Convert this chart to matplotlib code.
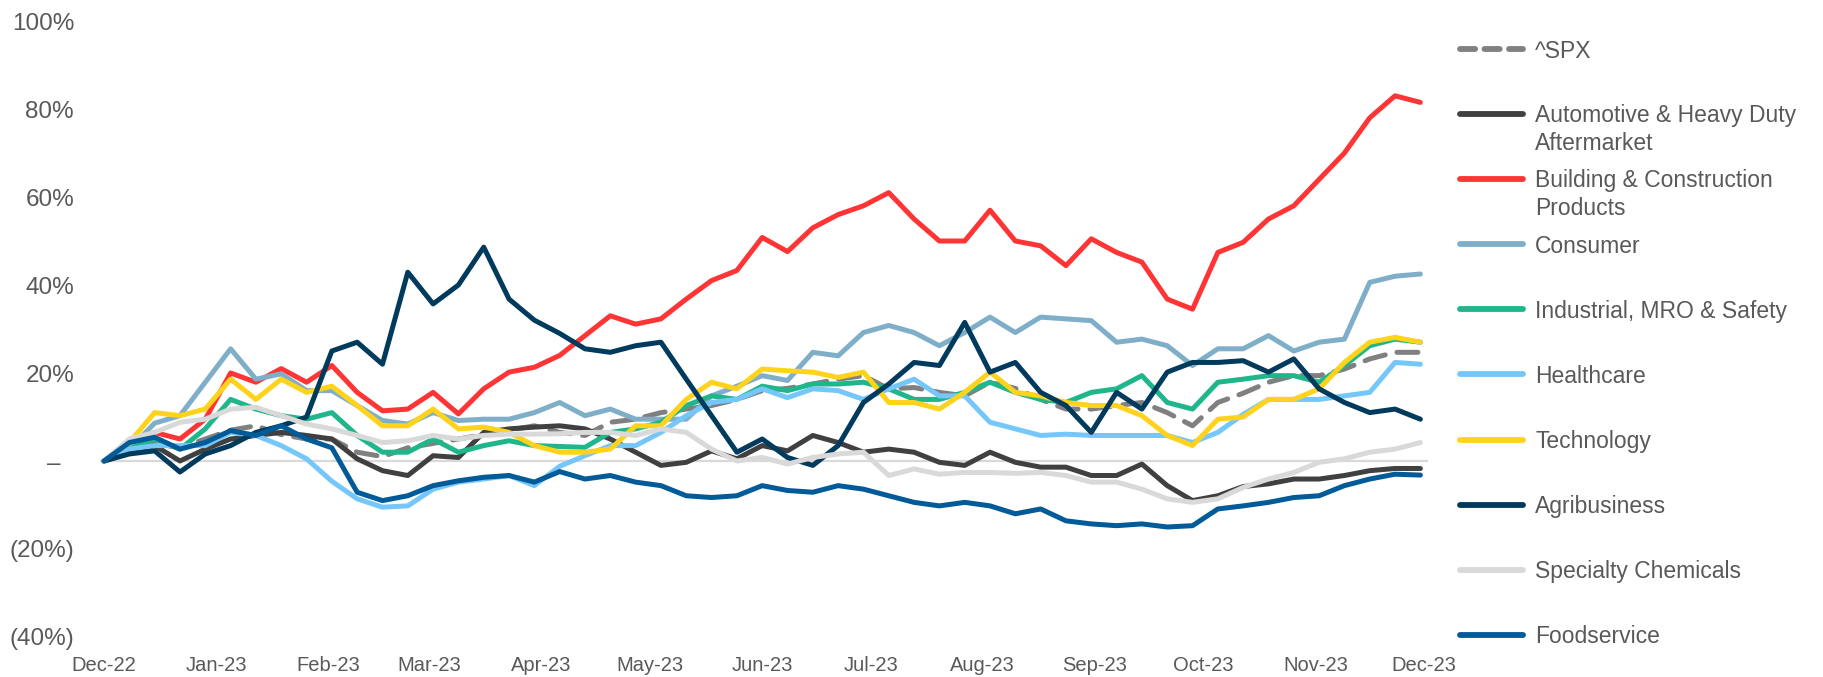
import matplotlib
matplotlib.use("Agg")
import matplotlib.pyplot as plt
import matplotlib.dates as mdates
from matplotlib.lines import Line2D
import pandas as pd

# ---------------- data (weekly, % change) ----------------
dates = pd.date_range("2022-12-01", periods=53, freq="7D")

spx = [0, 2, 4, 3, 5, 7, 8, 6, 5, 5, 2, 1, 3, 4, 5, 6, 7, 8, 6.5, 5.8,
       8.8, 9.5, 11, 11.8, 12.6, 14, 16, 16.5, 17.5, 18.6, 19.4, 16.4, 16.7, 15.6, 14.8, 17.9,
       16.5, 14, 11.8, 11.8, 12.6, 13.3, 11, 8, 13.3, 15.4, 17.9, 19.4, 19.4, 20.9, 23.2, 24.7, 24.7]
automotive = [0, 2, 3.5, 0, 2.7, 5, 5.8, 6.5, 5.8, 5, 0.5, -2.2, -3.3, 1.2, 0.8, 6.5, 7.3, 7.7, 8, 7.3,
              5, 2, -1, -0.3, 2.3, 0.5, 3.5, 2.3, 5.8, 4.2, 2, 2.7, 2, -0.3, -1, 2,
              -0.3, -1.4, -1.4, -3.3, -3.3, -0.7, -5.6, -9, -7.9, -5.8, -5.2, -4.1, -4.1, -3.3, -2.2, -1.7, -1.7]
building = [0, 2.7, 6.5, 5, 9.5, 20, 17.9, 21, 17.9, 21.7, 15.6, 11.4, 11.8, 15.6, 10.7, 16.4, 20.2, 21.3, 24, 28.5,
            33, 31.1, 32.3, 36.8, 41, 43.3, 50.8, 47.6, 53, 56, 58, 61, 55, 50, 50, 57,
            50, 48.9, 44.4, 50.5, 47.4, 45.2, 36.8, 34.5, 47.4, 49.7, 55, 58, 64, 70, 78, 83, 81.5]
consumer = [0, 2.7, 8.6, 10.3, 17.9, 25.5, 18.6, 19.8, 16, 16, 12.6, 9.2, 8.4, 11, 9.2, 9.5, 9.5, 11, 13.3, 10.3,
            11.8, 9.5, 9.5, 9.5, 14.8, 17, 19.4, 18.3, 24.7, 23.9, 29.2, 30.8, 29.2, 26.2, 29.2, 32.7,
            29.2, 32.7, 32.3, 31.9, 27, 27.7, 26.2, 21.7, 25.5, 25.5, 28.5, 25, 27, 27.7, 40.6, 42, 42.5]
industrial = [0, 2.7, 5, 2.7, 7.3, 14, 11.8, 10.3, 9.5, 11, 5.8, 2, 2, 5, 2, 3.5, 4.6, 3.5, 3.3, 3.1,
              6.5, 7.3, 8.8, 12.6, 14.8, 14, 17, 16, 17.5, 17.5, 17.9, 16.4, 14, 14, 15.6, 17.9,
              15.6, 14, 13.3, 15.6, 16.4, 19.4, 13.3, 11.8, 17.9, 18.6, 19.4, 19.4, 17.9, 21.7, 26.2, 27.7, 27]
healthcare = [0, 2.7, 3.5, 3.5, 3.5, 6.5, 5.8, 3.5, 0.5, -4.6, -8.6, -10.5, -10.2, -6.4, -4.8, -4.1, -3.3, -5.6, -1.2, 1.2,
              3.5, 3.5, 6.5, 10.3, 13.3, 14, 16.4, 14.4, 16.4, 16, 14, 16.4, 18.6, 14.8, 14.8, 8.8,
              7.3, 5.8, 6.1, 5.8, 5.8, 5.8, 5.8, 4.2, 6.5, 10.6, 14, 14, 14, 14.8, 15.6, 22.4, 22]
technology = [0, 4.2, 11, 10.3, 11.8, 18.6, 14, 18.6, 15.6, 17, 12.6, 8, 8, 11.8, 7.3, 7.7, 6.5, 3.5, 2, 2,
              2.7, 8, 8, 14, 17.9, 16.4, 20.9, 20.5, 20.2, 19, 20.2, 13.3, 13.3, 11.8, 15.6, 20.2,
              15.6, 14.8, 13.3, 12.6, 12.6, 10.3, 5.8, 3.5, 9.5, 10, 14, 14, 16.4, 22.4, 27, 28.1, 27]
agribusiness = [0, 1.6, 2.3, -2.5, 1.6, 3.5, 6.5, 8, 10, 25, 27, 22, 42.9, 35.7, 40, 48.6, 36.8, 32, 29, 25.5,
                24.7, 26.2, 27, 18.6, 10.3, 2, 5, 0.8, -1, 3.5, 13.3, 17.5, 22.4, 21.7, 31.5, 20.2,
                22.4, 15.6, 12.6, 6.5, 15.6, 11.8, 20.2, 22.4, 22.4, 22.8, 20.2, 23.2, 16.4, 13.3, 11, 11.8, 9.5]
specialty = [0, 5, 6.5, 8.8, 9.5, 11.8, 12.2, 10.3, 8.4, 7.3, 5.8, 4.2, 4.6, 5.8, 5, 5.8, 6.1, 6.1, 6.2, 6.5,
             6.5, 5.8, 7.3, 6.5, 2.7, 0, 0.8, -0.7, 0.8, 1.6, 2, -3.3, -1.8, -3, -2.6, -2.6,
             -2.8, -2.6, -3.3, -4.8, -4.8, -6.4, -8.6, -9.4, -8.6, -6, -4.1, -2.6, -0.3, 0.5, 2, 2.7, 4.2]
foodservice = [0, 4.2, 5.4, 2.7, 4.2, 6.9, 5.8, 8, 5, 3, -7.1, -9, -7.9, -5.6, -4.5, -3.7, -3.3, -4.8, -2.4, -4.1,
               -3.3, -4.8, -5.6, -7.9, -8.3, -7.9, -5.6, -6.7, -7.1, -5.6, -6.4, -7.9, -9.4, -10.2, -9.4, -10.2,
               -12, -10.9, -13.6, -14.3, -14.7, -14.3, -15, -14.7, -10.9, -10.2, -9.4, -8.3, -7.9, -5.6, -4.1, -3, -3.2]

labels = ["^SPX", "Automotive & Heavy Duty\nAftermarket", "Building & Construction\nProducts", "Consumer",
          "Industrial, MRO & Safety", "Healthcare", "Technology", "Agribusiness", "Specialty Chemicals", "Foodservice"]
series = [spx, automotive, building, consumer, industrial, healthcare, technology, agribusiness, specialty, foodservice]
colors = ["#808080", "#404040", "#FF3535", "#7FAFC8", "#1FB68B", "#76C7F9", "#FFD21C", "#003A5D", "#D9D9D9", "#005B98"]

y_ticks = [100, 80, 60, 40, 20, 0, -20, -40]
y_ticklabels = ["100%", "80%", "60%", "40%", "20%", "\u2013  ", "(20%)", "(40%)"]

# ---------------- fonts ----------------
tick_family = ["Liberation Sans", "DejaVu Sans"]
legend_family = ["Liberation Sans", "DejaVu Sans"]
text_color = "#595959"

W, H = 1823, 677
fig = plt.figure(figsize=(W / 100, H / 100), dpi=100)
ax = fig.add_axes([100.4 / W, 40 / H, (1427.6 - 100.4) / W, 616 / H])

ax.axhline(0, color="#D9D9D9", lw=1.6, zorder=1)
for i, (vals, c) in enumerate(zip(series, colors)):
    ls = (0, (4.2, 2.4)) if i == 0 else "-"
    ax.plot(dates, vals, color=c, lw=3.6, ls=ls, solid_capstyle="round", dash_capstyle="round",
            solid_joinstyle="round", zorder=2 + i, clip_on=False)

ax.set_xlim(pd.Timestamp("2022-11-30"), pd.Timestamp("2023-12-02"))
ax.set_ylim(-40, 100)
ax.xaxis.set_major_locator(mdates.MonthLocator(bymonthday=1))
ax.xaxis.set_major_formatter(mdates.DateFormatter("%b-%y"))
ax.set_yticks(y_ticks)
ax.set_yticklabels(y_ticklabels)
ax.tick_params(axis="x", length=0, pad=14, labelsize=14.5, labelcolor=text_color)
ax.tick_params(axis="y", length=0, pad=19, labelsize=17.5, labelcolor=text_color)
for lab in ax.get_xticklabels() + ax.get_yticklabels():
    lab.set_family(tick_family)
for s in ax.spines.values():
    s.set_visible(False)
ax.patch.set_alpha(0)

# ---------------- legend (manual, uniform spacing as in reference) ----------------
entry_y = [49 + 65.1 * k for k in range(len(labels))]
x0, x1, xt = 1460, 1523, 1535
line_gap = 27.0  # px between baselines of wrapped legend lines
for k, (lab, c) in enumerate(zip(labels, colors)):
    yf = 1 - entry_y[k] / H
    ls = (0, (2.6, 1.6)) if k == 0 else "-"
    fig.add_artist(Line2D([x0 / W, x1 / W], [yf, yf], transform=fig.transFigure, color=c, lw=4.2,
                          ls=ls, solid_capstyle="round", dash_capstyle="round"))
    n_extra = lab.count("\n")
    base = entry_y[k] + 8.5 + n_extra * line_gap
    fig.text(xt / W, 1 - base / H, lab, ha="left", va="baseline", fontsize=16.5,
             family=legend_family, color=text_color, linespacing=1.25)

fig.savefig("out.png", dpi=100)
